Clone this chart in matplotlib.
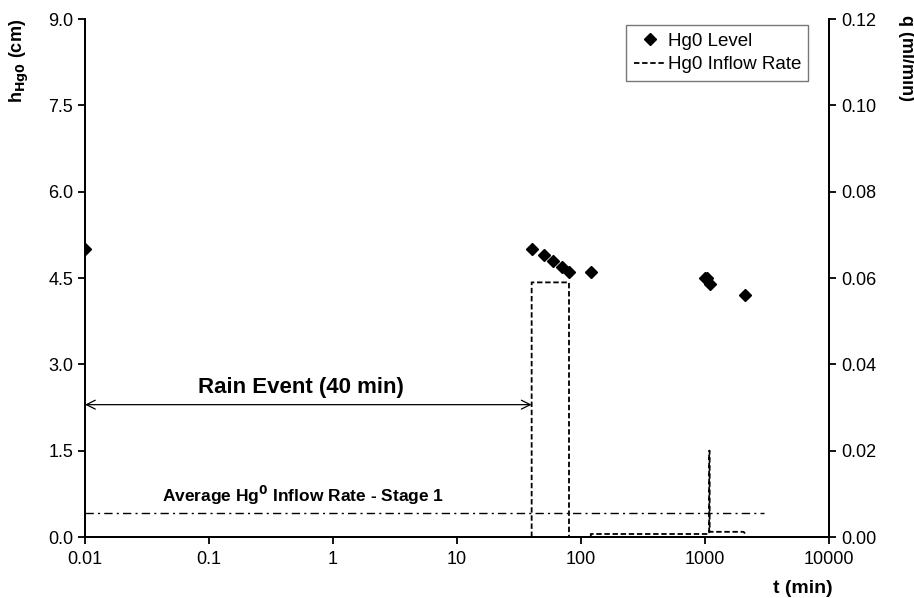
import matplotlib
matplotlib.use("Agg")
import matplotlib.pyplot as plt
from matplotlib.ticker import FixedLocator, FormatStrFormatter, NullLocator

plt.rcParams['font.family'] = ['Liberation Sans', 'DejaVu Sans']

# Hg0 level readings (time in min, level in cm)
level_t = [0.01, 40, 50, 60, 70, 80, 120, 1000, 1040, 1100, 2100]
level_h = [5.0, 5.0, 4.9, 4.8, 4.7, 4.6, 4.6, 4.5, 4.5, 4.4, 4.2]

# Hg0 inflow rate as a stepped trace (time in min, rate in ml/min)
inflow_t = [40, 40, 80, 80, 120, 120, 1080, 1080, 1090, 1090, 2050, 2100]
inflow_q = [0.0, 0.059, 0.059, 0.0, 0.0, 0.0007, 0.0007, 0.02, 0.02, 0.0012, 0.0012, 0.0008]

# Average inflow rate for stage 1 (ml/min) and its time span
avg_rate = 0.0056
avg_span = [0.01, 3000]

# Rain event span (min) and arrow level (cm)
rain_span = [0.01, 40]
rain_level = 2.3

x_ticks = [0.01, 0.1, 1, 10, 100, 1000, 10000]
x_tick_labels = ['0.01', '0.1', '1', '10', '100', '1000', '10000']
h_ticks = [0.0, 1.5, 3.0, 4.5, 6.0, 7.5, 9.0]
q_ticks = [0.00, 0.02, 0.04, 0.06, 0.08, 0.10, 0.12]

fig = plt.figure(figsize=(9.14, 5.98), dpi=100)
ax = fig.add_axes([0.093, 0.102, 0.814, 0.866])
ax2 = ax.twinx()

ax.set_xscale('log')
ax.set_xlim(0.01, 10000)
ax.set_ylim(0, 9.0)
ax2.set_ylim(0, 0.12)

ax.xaxis.set_major_locator(FixedLocator(x_ticks))
ax.xaxis.set_minor_locator(NullLocator())
ax.set_xticklabels(x_tick_labels)
ax.set_yticks(h_ticks)
ax.yaxis.set_major_formatter(FormatStrFormatter('%.1f'))
ax2.set_yticks(q_ticks)
ax2.yaxis.set_major_formatter(FormatStrFormatter('%.2f'))

for a in (ax, ax2):
    a.spines['top'].set_visible(False)
    for s in a.spines.values():
        s.set_linewidth(1.3)
    a.tick_params(direction='out', length=5, width=1.3, labelsize=13)
ax.tick_params(axis='x', pad=5)

# Level markers
lvl, = ax.plot(level_t, level_h, linestyle='none', marker='D', markersize=6.5,
               color='black', label='Hg0 Level', zorder=4)

# Inflow rate trace
inf, = ax2.plot(inflow_t, inflow_q, linestyle=(0, (3, 1.5)), color='black',
                linewidth=1.3, label='Hg0 Inflow Rate')

# Average stage-1 inflow rate
ax2.plot(avg_span, [avg_rate, avg_rate], linestyle=(0, (6, 3, 1.5, 3)),
         color='black', linewidth=1.0)

# Rain event arrow
ax.annotate('', xy=(rain_span[1], rain_level), xytext=(rain_span[0], rain_level),
            arrowprops=dict(arrowstyle='<->', color='black', lw=0.9,
                            shrinkA=0, shrinkB=0, mutation_scale=16))
ax.text(0.55, rain_level + 0.12, 'Rain Event (40 min)', ha='center', va='bottom',
        fontsize=16, fontweight='bold')
ax.text(0.57, 0.52, 'Average Hg$^{\\mathbf{0}}$ Inflow Rate - Stage 1',
        ha='center', va='bottom', fontsize=12.5, fontweight='bold')

ax.set_ylabel('h$_{\\mathbf{Hg0}}$ (cm)', fontsize=13, fontweight='bold')
ax.yaxis.set_label_coords(-0.072, 0.92)
ax2.set_ylabel('q (ml/min)', fontsize=13, fontweight='bold', rotation=-90,
               va='bottom')
ax2.yaxis.set_label_coords(1.093, 0.925)
ax.set_xlabel('t (min)', fontsize=14, fontweight='bold', va='center')
ax.xaxis.set_label_coords(0.965, -0.1)

leg = ax.legend(handles=[lvl, inf], loc='upper right',
                bbox_to_anchor=(0.985, 1.007), fontsize=13.5, frameon=True,
                fancybox=False, edgecolor='#555555', handlelength=1.7,
                handletextpad=0.1, borderpad=0.4, labelspacing=0.35)
leg.get_frame().set_linewidth(1.0)

fig.savefig('out.png', dpi=100)
